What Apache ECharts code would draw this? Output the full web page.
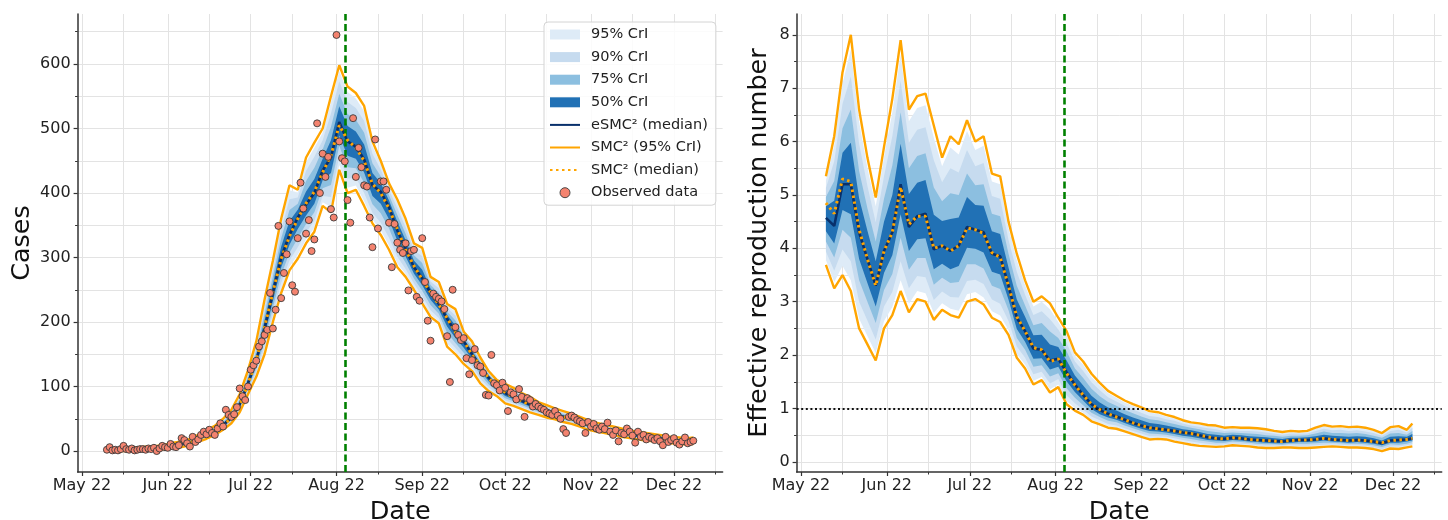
<!DOCTYPE html>
<html><head><meta charset="utf-8">
<script src="https://cdn.jsdelivr.net/npm/echarts@6/dist/echarts.min.js"></script>
<style>html,body{margin:0;padding:0;background:#fff}#c{width:1448px;height:520px}</style>
</head><body><div id="c"></div>
<script>
// ---------- x positions: days since 1 May 2022 ----------
const bandDays = [9,12,15,18,21,24,27,30,33,36, 39,42,45,48,51,54,57,60,63,66, 69,72,75,78,81,84,87,90,93,96, 99,102,105,108,111,114,117,120,123,126, 129,132,135,138,141,144,147,150,153,156, 159,162,165,168,171,174,177,180,183,186, 189,192,195,198,201,204,207,210,213,216, 219,221];

// ---------- Cases panel ----------
const casesMedian = [1,1,2,2,3,3,4,6,8,10, 13,19,25,31,40,52,72,105,140,190, 245,300,335,362,382,400,435,455,510,480, 472,452,412,402,378,342,314,285,268,245, 228,205,185,170,150,132,114,100,90,84, 78,72,66,61,57,53,50,45,40,37, 34,31,28,26,24,22,21,19,17,16, 15,16];
const casesSmcMedian = [1,1,2,2,3,3,4,6,8,10, 13,19,25,31,40,51,71,104,141,192, 246,298,333,360,384,402,432,458,505,482, 470,450,414,400,376,344,312,287,266,246, 227,206,184,171,149,133,113,100,91,83, 78,71,66,61,57,53,49,45,41,37, 34,31,28,26,24,22,21,19,17,16, 15,16];
const casesSmcHi = [4,4,5,5,6,7,8,10,13,15, 19,25,32,39,50,64,88,125,170,235, 295,360,412,405,455,478,500,550,598,565, 555,535,480,450,415,390,360,322,315,270, 262,228,220,185,170,145,124,110,104,98, 90,84,76,71,66,62,58,53,48,44, 41,38,35,32,30,28,26,24,22,21, 20,21];
const casesSmcLo = [0,0,0,0,1,1,1,3,5,6, 9,14,19,25,33,43,60,88,115,150, 200,245,280,298,322,340,380,370,436,400, 405,380,353,335,312,285,270,250,229,208, 198,162,150,135,124,105,93,85,74,70, 65,60,56,52,49,45,42,38,33,30, 28,25,22,20,18,16,15,13,12,11, 10,11];
const cases95Hi = [3.7,3.7,4.7,4.7,5.7,6.6,7.6,9.6,12.5,14.5, 18.4,24.4,31.3,38.2,49,62.8,86.4,123,167,230.5, 290,354,404.3,400.7,447.7,470.2,493.5,540.5,589.2,556.5, 546.7,526.7,473.2,445.2,411.3,385.2,355.4,318.3,310.3,267.5, 258.6,225.7,216.5,183.5,168,143.7,123,109,102.6,96.6, 88.8,82.8,75,70,65.1,61.1,57.2,52.2,47.2,43.3, 40.3,37.3,34.3,31.4,29.4,27.4,25.5,23.5,21.5,20.5, 19.5,20.5];
const cases90Hi = [3.2,3.2,4.2,4.2,5.2,5.9,6.9,8.9,11.6,13.6, 17.3,23.3,30,36.8,47.2,60.6,83.5,119.4,161.6,222.4, 281,343.2,390.4,393,434.6,456.2,481.8,523.4,573.4,541.2, 531.8,511.8,461,436.6,404.6,376.6,347.1,311.6,301.8,263, 252.5,221.6,210.2,180.8,164.4,141.4,121.2,107.2,100.1,94.1, 86.6,80.6,73.2,68.2,63.5,59.5,55.8,50.8,45.8,42, 39,36,33,30.3,28.3,26.3,24.6,22.6,20.6,19.6, 18.6,19.6];
const cases75Hi = [2.5,2.5,3.5,3.5,4.5,5,6,8,10.5,12.5, 16,22,28.5,35,45,58,80,115,155,212.5, 270,330,373.5,383.5,418.5,439,467.5,502.5,554,522.5, 513.5,493.5,446,426,396.5,366,337,303.5,291.5,257.5, 245,216.5,202.5,177.5,160,138.5,119,105,97,91, 84,78,71,66,61.5,57.5,54,49,44,40.5, 37.5,34.5,31.5,29,27,25,23.5,21.5,19.5,18.5, 17.5,18.5];
const cases50Hi = [1.8,1.8,2.8,2.8,3.8,4.1,5.1,7.1,9.4,11.4, 14.7,20.7,27,33.2,42.8,55.4,76.5,110.6,148.4,202.6, 259,316.8,356.6,374,402.4,421.8,453.2,481.6,534.6,503.8, 495.2,475.2,431,415.4,388.4,355.4,326.9,295.4,281.2,252, 237.5,211.4,194.8,174.2,155.6,135.6,116.8,102.8,93.9,87.9, 81.4,75.4,68.8,63.8,59.5,55.5,52.2,47.2,42.2,39, 36,33,30,27.7,25.7,23.7,22.4,20.4,18.4,17.4, 16.4,17.4];
const cases50Lo = [0.7,0.7,1.4,1.4,2.4,2.4,3.2,5.2,7.2,8.9, 11.9,17.6,23.3,29.3,38,49.5,68.6,100.2,133,178.8, 232.4,284.6,319.6,344.1,365.2,383.2,419.6,431.2,489.3,457.6, 453.2,431.8,395.5,383.2,359.5,326,301.7,275.2,257.1,234.6, 219.6,193,175.2,160.2,142.7,124.4,108.1,95.8,85.5,80.1, 74.4,68.6,63.2,58.5,54.8,50.8,47.8,43,38,35, 32.3,29.3,26.3,24.3,22.3,20.3,19.3,17.3,15.6,14.6, 13.6,14.6];
const cases75Lo = [0.5,0.5,1,1,2,2,2.5,4.5,6.5,8, 11,16.5,22,28,36.5,47.5,66,96.5,127.5,170, 222.5,272.5,307.5,330,352,370,407.5,412.5,473,440, 438.5,416,382.5,368.5,345,313.5,292,267.5,248.5,226.5, 213,183.5,167.5,152.5,137,118.5,103.5,92.5,82,77, 71.5,66,61,56.5,53,49,46,41.5,36.5,33.5, 31,28,25,23,21,19,18,16,14.5,13.5, 12.5,13.5];
const cases90Lo = [0.3,0.3,0.6,0.6,1.6,1.6,1.8,3.8,5.8,7.1, 10.1,15.4,20.7,26.7,35,45.5,63.4,92.8,122,161.2, 212.6,260.4,295.4,315.9,338.8,356.8,395.4,393.8,456.7,422.4, 423.8,400.2,369.5,353.8,330.5,301,282.3,259.8,239.9,218.4, 206.4,174,159.8,144.8,131.3,112.6,98.9,89.2,78.5,73.9, 68.6,63.4,58.8,54.5,51.2,47.2,44.2,40,35,32, 29.7,26.7,23.7,21.7,19.7,17.7,16.7,14.7,13.4,12.4, 11.4,12.4];
const cases95Lo = [0.1,0.1,0.2,0.2,1.2,1.2,1.3,3.3,5.3,6.4, 9.4,14.5,19.6,25.6,33.7,43.9,61.2,89.7,117.5,154, 204.5,250.5,285.5,304.4,328,346,385.5,378.5,443.4,408, 411.7,387.2,358.9,341.7,318.6,290.7,274.4,253.5,232.9,211.7, 201,166.3,153.5,138.5,126.6,107.7,95.1,86.5,75.6,71.4, 66.3,61.2,57,52.9,49.8,45.8,42.8,38.7,33.7,30.7, 28.6,25.6,22.6,20.6,18.6,16.6,15.6,13.6,12.5,11.5, 10.5,11.5];

// observed daily cases, first value is day 9 (10 May 2022), one value per day
const obsFirstDay = 9;
const casesObserved = [2,6,1,2,1,3,8,3,2,4, 1,2,3,3,2,4,3,5,0,4, 8,6,5,11,7,6,9,20,17,12, 7,22,14,18,25,30,26,33,28,25, 35,43,38,64,56,53,57,68,97,85, 79,100,126,133,140,162,170,180,188,245, 190,219,349,237,276,305,356,257,247,330, 416,376,337,358,310,328,508,400,461,425, 456,375,362,645,480,454,449,389,354,516, 425,470,440,412,410,362,316,483,345,418, 418,405,354,285,352,323,312,307,322,249, 310,312,239,233,330,262,202,171,244,239, 236,232,220,178,107,250,192,180,172,175, 144,119,141,158,133,131,121,87,86,149, 105,102,94,106,98,62,91,88,80,96, 84,53,82,79,69,73,69,66,64,60, 58,56,62,55,50,34,28,53,55,52, 48,46,43,28,45,38,42,35,33,38, 34,44,30,25,32,15,28,26,35,30, 24,13,30,22,25,18,22,20,17,20, 15,9,22,14,17,20,13,10,15,21, 12,14,16];

// ---------- Effective reproduction number panel ----------
const rtMedian = [4.57,4.42,5.2,5.2,4.3,3.8,3.3,3.95,4.3,5.2, 4.4,4.6,4.65,3.98,4.05,3.95,4.05,4.4,4.35,4.3, 3.9,3.85,3.3,2.7,2.45,2.12,2.1,1.9,1.93,1.68, 1.45,1.25,1.08,0.97,0.9,0.85,0.79,0.73,0.68,0.64, 0.62,0.6,0.58,0.55,0.53,0.5,0.46,0.44,0.43,0.45, 0.44,0.42,0.41,0.4,0.39,0.38,0.4,0.41,0.41,0.42, 0.44,0.42,0.41,0.4,0.41,0.4,0.38,0.35,0.4,0.41, 0.42,0.44];
const rtSmcMedian = [4.85,4.65,5.3,5.25,4.35,3.8,3.3,3.95,4.3,5.15, 4.45,4.6,4.6,4.0,4.05,3.95,4.05,4.38,4.35,4.28, 3.92,3.83,3.3,2.72,2.45,2.14,2.1,1.88,1.93,1.66, 1.44,1.25,1.08,0.98,0.9,0.84,0.79,0.73,0.68,0.64, 0.62,0.6,0.58,0.55,0.53,0.5,0.47,0.44,0.43,0.45, 0.44,0.42,0.41,0.4,0.39,0.38,0.4,0.41,0.41,0.42, 0.44,0.42,0.41,0.4,0.41,0.4,0.38,0.36,0.4,0.41, 0.42,0.44];
const rtSmcHi = [5.35,6.1,7.3,8.0,6.6,5.7,4.95,5.9,6.8,7.9, 6.6,6.85,6.9,6.3,5.7,6.1,5.95,6.4,6.0,6.1, 5.4,5.35,4.5,3.9,3.4,3.0,3.1,2.97,2.7,2.45, 2.05,1.88,1.65,1.48,1.33,1.24,1.15,1.08,1.02,0.95, 0.93,0.88,0.84,0.78,0.74,0.72,0.69,0.68,0.64,0.65, 0.64,0.64,0.63,0.61,0.58,0.56,0.58,0.57,0.58,0.64, 0.69,0.66,0.67,0.65,0.66,0.64,0.6,0.54,0.65,0.67, 0.6,0.72];
const rtSmcLo = [3.69,3.25,3.5,3.2,2.5,2.2,1.9,2.5,2.75,3.2, 2.8,3.05,3.0,2.66,2.85,2.75,2.7,3.0,3.05,2.95, 2.7,2.62,2.38,1.95,1.75,1.45,1.53,1.3,1.4,1.08, 0.96,0.88,0.76,0.7,0.64,0.62,0.57,0.52,0.47,0.42, 0.43,0.42,0.38,0.35,0.32,0.3,0.29,0.28,0.29,0.31, 0.3,0.29,0.27,0.26,0.26,0.27,0.27,0.26,0.26,0.27, 0.28,0.29,0.28,0.27,0.27,0.26,0.24,0.2,0.25,0.24, 0.27,0.29];
const rt95Hi = [5.27,5.93,7.09,7.72,6.37,5.51,4.79,5.71,6.55,7.63, 6.38,6.63,6.68,6.07,5.54,5.89,5.76,6.2,5.84,5.92, 5.25,5.2,4.38,3.78,3.31,2.91,3.0,2.86,2.62,2.37, 1.99,1.82,1.59,1.43,1.29,1.2,1.11,1.05,0.99,0.92, 0.9,0.85,0.81,0.76,0.72,0.7,0.67,0.66,0.62,0.63, 0.62,0.62,0.61,0.59,0.56,0.54,0.56,0.55,0.56,0.62, 0.67,0.64,0.64,0.63,0.64,0.62,0.58,0.52,0.63,0.64, 0.58,0.69];
const rt90Hi = [5.13,5.63,6.71,7.22,5.96,5.17,4.49,5.35,6.1,7.14, 5.98,6.22,6.27,5.65,5.24,5.5,5.42,5.84,5.54,5.6, 4.98,4.93,4.16,3.56,3.13,2.75,2.82,2.67,2.48,2.23, 1.88,1.7,1.49,1.34,1.21,1.13,1.05,0.98,0.92,0.86, 0.84,0.8,0.77,0.72,0.68,0.66,0.63,0.61,0.58,0.59, 0.58,0.58,0.57,0.55,0.53,0.51,0.53,0.53,0.53,0.58, 0.62,0.59,0.6,0.58,0.59,0.57,0.54,0.49,0.58,0.6, 0.55,0.64];
const rt75Hi = [4.96,5.26,6.25,6.6,5.45,4.75,4.13,4.93,5.55,6.55, 5.5,5.73,5.78,5.14,4.88,5.03,5.0,5.4,5.18,5.2, 4.65,4.6,3.9,3.3,2.93,2.56,2.6,2.44,2.32,2.07, 1.75,1.57,1.37,1.23,1.12,1.05,0.97,0.91,0.85,0.8, 0.78,0.74,0.71,0.67,0.64,0.61,0.58,0.56,0.54,0.55, 0.54,0.53,0.52,0.5,0.49,0.47,0.49,0.49,0.5,0.53, 0.57,0.54,0.54,0.53,0.54,0.52,0.49,0.45,0.53,0.54, 0.51,0.58];
const rt50Hi = [4.79,4.89,5.79,5.98,4.94,4.33,3.76,4.5,5.0,5.96, 5.02,5.23,5.28,4.63,4.51,4.55,4.58,4.96,4.81,4.8, 4.32,4.27,3.64,3.04,2.72,2.37,2.38,2.2,2.15,1.9, 1.62,1.43,1.24,1.11,1.02,0.96,0.89,0.83,0.78,0.73, 0.71,0.68,0.65,0.61,0.59,0.56,0.52,0.51,0.49,0.51, 0.5,0.48,0.47,0.46,0.44,0.43,0.45,0.45,0.46,0.48, 0.51,0.49,0.48,0.47,0.48,0.47,0.44,0.4,0.47,0.48, 0.47,0.52];
const rt50Lo = [4.32,4.09,4.72,4.64,3.8,3.35,2.91,3.54,3.87,4.64, 3.95,4.17,4.19,3.61,3.71,3.61,3.67,4.01,3.99,3.92, 3.56,3.51,3.04,2.49,2.25,1.93,1.94,1.73,1.78,1.51, 1.31,1.15,0.99,0.89,0.83,0.79,0.73,0.67,0.62,0.58, 0.57,0.55,0.52,0.49,0.47,0.44,0.41,0.4,0.39,0.41, 0.4,0.38,0.37,0.36,0.35,0.35,0.36,0.37,0.37,0.38, 0.4,0.38,0.37,0.36,0.37,0.36,0.34,0.31,0.36,0.36, 0.38,0.4];
const rt75Lo = [4.13,3.83,4.35,4.2,3.4,3.0,2.6,3.22,3.52,4.2, 3.6,3.82,3.82,3.32,3.45,3.35,3.37,3.7,3.7,3.62, 3.3,3.24,2.84,2.32,2.1,1.78,1.81,1.6,1.66,1.38, 1.2,1.06,0.92,0.84,0.77,0.74,0.68,0.63,0.58,0.53, 0.52,0.51,0.48,0.45,0.43,0.4,0.38,0.36,0.36,0.38, 0.37,0.36,0.34,0.33,0.33,0.32,0.34,0.34,0.34,0.35, 0.36,0.36,0.35,0.34,0.34,0.33,0.31,0.28,0.33,0.32, 0.34,0.37];
const rt90Lo = [3.94,3.58,3.98,3.76,3.0,2.65,2.29,2.91,3.18,3.76, 3.25,3.48,3.46,3.03,3.19,3.09,3.08,3.39,3.41,3.33, 3.04,2.96,2.64,2.16,1.95,1.64,1.69,1.47,1.55,1.25, 1.1,0.98,0.85,0.78,0.71,0.68,0.63,0.58,0.53,0.48, 0.48,0.47,0.44,0.41,0.38,0.36,0.34,0.32,0.33,0.35, 0.34,0.33,0.31,0.3,0.3,0.3,0.31,0.3,0.3,0.31, 0.32,0.33,0.32,0.31,0.31,0.3,0.28,0.24,0.29,0.29, 0.31,0.33];
const rt95Lo = [3.78,3.37,3.67,3.4,2.68,2.36,2.04,2.64,2.9,3.4, 2.96,3.2,3.16,2.79,2.97,2.87,2.83,3.14,3.18,3.08, 2.82,2.74,2.47,2.02,1.82,1.52,1.59,1.36,1.45,1.14, 1.01,0.92,0.79,0.73,0.67,0.64,0.59,0.54,0.49,0.44, 0.45,0.44,0.4,0.37,0.34,0.32,0.31,0.3,0.3,0.32, 0.31,0.3,0.28,0.27,0.27,0.28,0.28,0.28,0.28,0.29, 0.3,0.3,0.29,0.28,0.28,0.27,0.25,0.22,0.27,0.26, 0.29,0.31];

// ---------- ticks / reference values ----------
const monthLabels = ['May 22','Jun 22','Jul 22','Aug 22','Sep 22','Oct 22','Nov 22','Dec 22'];
const monthStartDays = [0,31,61,92,123,153,184,214];
const midMonthDays = [15,46,76,107,138,168,199,229];
const casesTicks = [0,100,200,300,400,500,600];
const casesMinorTicks = [50,150,250,350,450,550,650];
const rtTicks = [0,1,2,3,4,5,6,7,8];
const rtMinorTicks = [0.5,1.5,2.5,3.5,4.5,5.5,6.5,7.5];
const interventionDay = 95;
const rtThreshold = 1;

// ---------- styling ----------
const FONT = 'DejaVu Sans';
const C95 = '#deebf7', C90 = '#c6dbef', C75 = '#8cbfe0', C50 = '#2171b5';
const NAVY = '#08306b', ORANGE = '#ffa500', OBS = '#f4836f', GREEN = '#008000';
const GRIDC = '#e3e3e3', AXC = '#333';
const X_MIN = -1.6, X_MAX = 231.6;

function pairs(ys) { return bandDays.map((d, i) => [d, ys[i]]); }

// a band is drawn as one filled polygon (lower edge then upper edge reversed), positioned with api.coord
function bandSeries(name, color, xi, yi, lo, hi) {
  return {
    type: 'custom', name: name, xAxisIndex: xi, yAxisIndex: yi, silent: true, z: 1, clip: true,
    itemStyle: { color: color },
    data: pairs(lo),
    encode: { x: 0, y: 1 },
    renderItem: function (params, api) {
      if (params.dataIndex !== 0) return null;
      const pts = [];
      for (let i = 0; i < bandDays.length; i++) pts.push(api.coord([bandDays[i], lo[i]]));
      for (let i = bandDays.length - 1; i >= 0; i--) pts.push(api.coord([bandDays[i], hi[i]]));
      return { type: 'polygon', shape: { points: pts }, style: { fill: color, stroke: null } };
    }
  };
}

function lines(xi, yi, med, smcLo, smcHi, smcMed, markData) {
  return [
    { type: 'line', name: 'eSMC² (median)', xAxisIndex: xi, yAxisIndex: yi, data: pairs(med),
      symbol: 'none', lineStyle: { color: NAVY, width: 2.6 }, itemStyle: { color: NAVY }, z: 3, silent: true },
    { type: 'line', name: 'SMC² (95% CrI)', xAxisIndex: xi, yAxisIndex: yi, data: pairs(smcHi),
      symbol: 'none', lineStyle: { color: ORANGE, width: 2.4 }, itemStyle: { color: ORANGE }, z: 4, silent: true },
    { type: 'line', name: 'SMC² (95% CrI)', xAxisIndex: xi, yAxisIndex: yi, data: pairs(smcLo),
      symbol: 'none', lineStyle: { color: ORANGE, width: 2.4 }, itemStyle: { color: ORANGE }, z: 4, silent: true },
    { type: 'line', name: 'SMC² (median)', xAxisIndex: xi, yAxisIndex: yi, data: pairs(smcMed),
      symbol: 'none', lineStyle: { color: ORANGE, width: 3, type: [2.5, 3.5] }, itemStyle: { color: ORANGE }, z: 5, silent: true,
      markLine: { silent: true, symbol: ['none', 'none'], label: { show: false }, animation: false, data: markData } }
  ];
}

const greenMark = { xAxis: interventionDay, lineStyle: { color: GREEN, width: 2.6, type: [7, 3.5] } };
const oneMark = { yAxis: rtThreshold, lineStyle: { color: '#111', width: 2, type: [2, 2.6] } };

function xAxes(grid) {
  return [
    { type: 'value', gridIndex: grid, min: X_MIN, max: X_MAX, position: 'bottom',
      axisLine: { show: true, onZero: false, lineStyle: { color: AXC, width: 1.5 } },
      axisTick: { show: true, customValues: monthStartDays, length: 4, lineStyle: { color: AXC, width: 1.2 } },
      axisLabel: { customValues: monthStartDays, formatter: v => monthLabels[monthStartDays.indexOf(v)] || '',
                   fontFamily: FONT, fontSize: 16, color: '#222', margin: 6 },
      splitLine: { show: true, lineStyle: { color: GRIDC, width: 1 } },
      name: 'Date', nameLocation: 'middle', nameGap: 21,
      nameTextStyle: { fontFamily: FONT, fontSize: 25.5, color: '#111' } },
    { type: 'value', gridIndex: grid, min: X_MIN, max: X_MAX, position: 'bottom',
      axisLine: { show: false, onZero: false },
      axisTick: { show: true, customValues: midMonthDays, length: 2.5, lineStyle: { color: AXC, width: 1 } },
      axisLabel: { show: false },
      splitLine: { show: true, lineStyle: { color: GRIDC, width: 1 } } }
  ];
}

function yAxes(grid, min, max, ticks, minor, name, gap, fmt) {
  return [
    { type: 'value', gridIndex: grid, min: min, max: max, position: 'left',
      axisLine: { show: true, onZero: false, lineStyle: { color: AXC, width: 1.5 } },
      axisTick: { show: true, customValues: ticks, length: 4, lineStyle: { color: AXC, width: 1.2 } },
      axisLabel: { customValues: ticks, formatter: fmt, fontFamily: FONT, fontSize: 16, color: '#222', margin: 7 },
      splitLine: { show: true, lineStyle: { color: GRIDC, width: 1 } },
      name: name, nameLocation: 'middle', nameGap: gap,
      nameTextStyle: { fontFamily: FONT, fontSize: 25.5, color: '#111' } },
    { type: 'value', gridIndex: grid, min: min, max: max, position: 'left',
      axisLine: { show: false, onZero: false },
      axisTick: { show: true, customValues: minor, length: 2.5, lineStyle: { color: AXC, width: 1 } },
      axisLabel: { show: false },
      splitLine: { show: true, lineStyle: { color: GRIDC, width: 1 } } }
  ];
}

const series = [];
series.push(bandSeries('95% CrI', C95, 0, 0, cases95Lo, cases95Hi));
series.push(bandSeries('90% CrI', C90, 0, 0, cases90Lo, cases90Hi));
series.push(bandSeries('75% CrI', C75, 0, 0, cases75Lo, cases75Hi));
series.push(bandSeries('50% CrI', C50, 0, 0, cases50Lo, cases50Hi));
series.push(...lines(0, 0, casesMedian, casesSmcLo, casesSmcHi, casesSmcMedian, [greenMark]));
series.push({ type: 'scatter', name: 'Observed data', xAxisIndex: 0, yAxisIndex: 0,
  data: casesObserved.map((v, i) => [obsFirstDay + i, v]),
  symbol: 'circle', symbolSize: 7,
  itemStyle: { color: OBS, borderColor: '#3a3a3a', borderWidth: 0.9, opacity: 1 }, z: 6, silent: true });
series.push(bandSeries('95% CrI', C95, 2, 2, rt95Lo, rt95Hi));
series.push(bandSeries('90% CrI', C90, 2, 2, rt90Lo, rt90Hi));
series.push(bandSeries('75% CrI', C75, 2, 2, rt75Lo, rt75Hi));
series.push(bandSeries('50% CrI', C50, 2, 2, rt50Lo, rt50Hi));
series.push(...lines(2, 2, rtMedian, rtSmcLo, rtSmcHi, rtSmcMedian, [greenMark, oneMark]));

const legendNames = ['95% CrI', '90% CrI', '75% CrI', '50% CrI', 'eSMC² (median)', 'SMC² (95% CrI)', 'SMC² (median)', 'Observed data'];
const bandColors = { '95% CrI': C95, '90% CrI': C90, '75% CrI': C75, '50% CrI': C50 };
const lineNames = { 'eSMC² (median)': 1, 'SMC² (95% CrI)': 1, 'SMC² (median)': 1 };

const option = {
  animation: false,
  backgroundColor: '#fff',
  grid: [
    { left: 77.6, top: 14, width: 645, height: 458, containLabel: false, outerBoundsMode: 'none' },
    { left: 796.6, top: 14, width: 645.1, height: 458, containLabel: false, outerBoundsMode: 'none' }
  ],
  xAxis: [...xAxes(0), ...xAxes(1)],
  yAxis: [...yAxes(0, -32.5, 677.5, casesTicks, casesMinorTicks, 'Cases', 42, v => String(v)),
          ...yAxes(1, -0.19, 8.39, rtTicks, rtMinorTicks, 'Effective reproduction number', 24, v => String(v))],
  legend: {
    left: 544, top: 22, orient: 'vertical',
    padding: [5, 8, 5, 5], itemGap: 7.6, itemWidth: 30, itemHeight: 10,
    backgroundColor: 'rgba(255,255,255,0.85)', borderColor: '#d4d4d4', borderWidth: 1, borderRadius: 4,
    textStyle: { fontFamily: FONT, fontSize: 14.5, color: '#222', lineHeight: 15, padding: [0, 0, 0, 6] },
    selectedMode: false,
    data: legendNames.map(n => bandColors[n]
      ? { name: n, icon: 'rect', itemStyle: { color: bandColors[n], borderWidth: 0 } }
      : lineNames[n]
        ? { name: n, itemStyle: { opacity: 0 } }
        : { name: n, icon: 'circle', itemStyle: { color: OBS, borderColor: '#3a3a3a', borderWidth: 0.9 } })
  },
  series: series
};

const chart = echarts.init(document.getElementById('c'), null, { renderer: 'canvas' });
chart.setOption(option);
</script>
</body></html>
